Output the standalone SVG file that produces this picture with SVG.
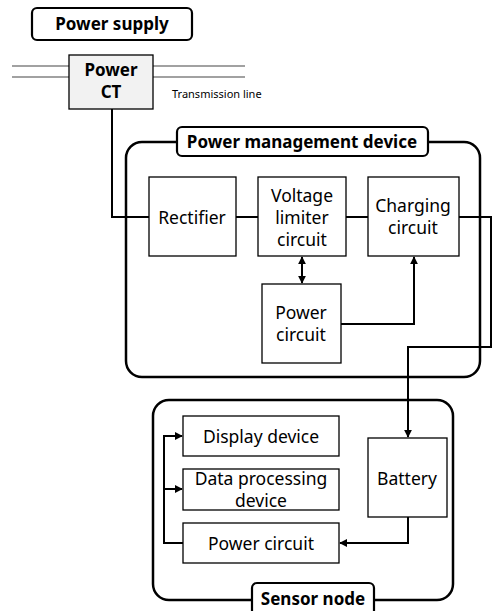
<svg xmlns="http://www.w3.org/2000/svg" width="495" height="611" viewBox="0 0 495 611">
<defs>
<style>
.outer{fill:#fff;stroke:#000;stroke-width:2.5}
.lbl{fill:#fff;stroke:#000;stroke-width:2.2}
.box{fill:#fff;stroke:#000;stroke-width:1.3}
.wire{fill:none;stroke:#000;stroke-width:2}
.tl{stroke:#444;stroke-width:1.2}
text{font-family:"Noto Sans","Liberation Sans",sans-serif;fill:#000;text-anchor:middle}
.b{font-weight:bold;font-size:17px}
.n{font-size:17.5px}
</style>
<marker id="ah" viewBox="0 0 10 10" refX="9" refY="5" markerWidth="4" markerHeight="4" orient="auto-start-reverse"><path d="M0,0 L10,5 L0,10 z" fill="#000"/></marker>
</defs>
<g id="power-supply"><rect class="lbl" x="32" y="8" width="160" height="32" rx="5"/><text class="b" x="112" y="30">Power supply</text></g>
<g id="transmission-line">
<line class="tl" x1="12" y1="66" x2="69" y2="66"/><line class="tl" x1="12" y1="77" x2="69" y2="77"/>
<line class="tl" x1="153" y1="66" x2="245" y2="66"/><line class="tl" x1="153" y1="77" x2="245" y2="77"/>
<text x="172" y="98" style="font-size:11px;text-anchor:start">Transmission line</text>
</g>
<g id="power-ct"><rect x="69" y="55" width="84" height="54" fill="#f2f2f2" stroke="#000" stroke-width="1.3"/><text class="b" x="111" y="76">Power</text><text class="b" x="111" y="98">CT</text></g>
<g id="power-management-device"><rect class="outer" x="126" y="142" width="354" height="235" rx="16"/><rect class="lbl" x="177" y="127" width="251" height="29" rx="5"/><text class="b" x="302" y="148">Power management device</text></g>
<g id="sensor-node"><rect class="outer" x="153" y="400" width="300" height="200" rx="16"/><rect class="lbl" x="252" y="583" width="122" height="34" rx="5"/><text class="b" x="313" y="605">Sensor node</text></g>
<g id="rectifier"><rect class="box" x="149" y="177" width="87" height="79"/><text class="n" x="192" y="224">Rectifier</text></g>
<g id="voltage-limiter"><rect class="box" x="258" y="177" width="88" height="79"/><text class="n" x="302" y="202">Voltage</text><text class="n" x="302" y="224">limiter</text><text class="n" x="302" y="246">circuit</text></g>
<g id="charging-circuit"><rect class="box" x="368" y="177" width="91" height="79"/><text class="n" x="413" y="212">Charging</text><text class="n" x="413" y="234">circuit</text></g>
<g id="pmd-power-circuit"><rect class="box" x="262" y="284" width="79" height="79"/><text class="n" x="301" y="319">Power</text><text class="n" x="301" y="341">circuit</text></g>
<g id="display-device"><rect class="box" x="183" y="416" width="156" height="40"/><text class="n" x="261" y="443">Display device</text></g>
<g id="data-processing-device"><rect class="box" x="183" y="469" width="156" height="41"/><text class="n" x="261" y="485">Data processing</text><text class="n" x="261" y="507">device</text></g>
<g id="sn-power-circuit"><rect class="box" x="183" y="523" width="156" height="40"/><text class="n" x="261" y="550">Power circuit</text></g>
<g id="battery"><rect class="box" x="368" y="438" width="79" height="79"/><text class="n" x="407" y="485">Battery</text></g>
<g id="connectors">
<path class="wire" d="M112,109 V217 H149"/>
<path class="wire" d="M236,217 H258"/>
<path class="wire" d="M346,217 H368"/>
<path class="wire" d="M459,217 H491 V347 H408 V437" marker-end="url(#ah)"/>
<path class="wire" d="M302,257 V283" marker-start="url(#ah)" marker-end="url(#ah)"/>
<path class="wire" d="M341,324 H414 V257" marker-end="url(#ah)"/>
<path class="wire" d="M408,517 V543 H340" marker-end="url(#ah)"/>
<path class="wire" d="M183,543 H164 V436 H182" marker-end="url(#ah)"/>
<path class="wire" d="M164,489 H182" marker-end="url(#ah)"/>
</g>
</svg>
